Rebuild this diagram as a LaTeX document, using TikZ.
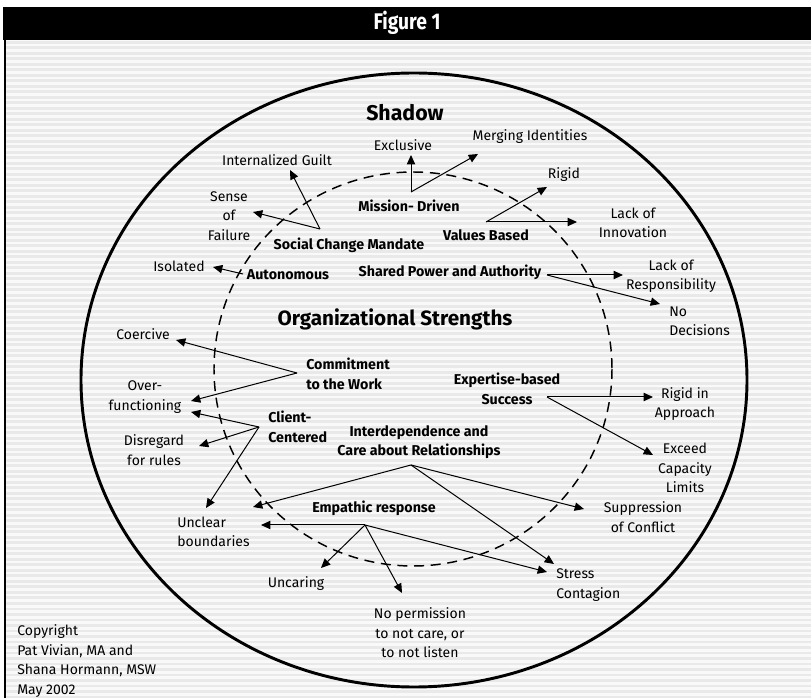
\documentclass[tikz,border=0pt]{standalone}
\usepackage{fontspec}
\setmainfont{Fira Sans}
\usetikzlibrary{arrows.meta}
\begin{document}
\begin{tikzpicture}[x=0.75pt,y=-0.75pt,
  lab/.style={inner sep=0pt, align=center, font=\fontsize{10.5}{14.6}\selectfont},
  labl/.style={lab, align=left, anchor=west},
  str/.style={inner sep=0pt, align=center, font=\bfseries\fontsize{10.7}{14.6}\selectfont},
  strl/.style={str, align=left, anchor=west},
  arr/.style={-{Triangle[length=7pt,width=6.2pt]}, line width=0.75pt},
  stripe/.style={fill=gray!17}]
\useasboundingbox (0,0) rectangle (811,698);
\fill[white] (0,0) rectangle (811,698);
% striped background
\fill[gray!5] (5,40) rectangle (811,698);
\begin{scope}
\clip (5,40) rectangle (811,698);
\foreach \i in {0,...,119} \fill[stripe] (5,{41+\i*5.5}) rectangle (811,{43.7+\i*5.5});
\end{scope}
% header
\fill[black] (3,7) rectangle (811,40);
\node[text=white, inner sep=0pt, font=\bfseries\fontsize{17}{19}\selectfont] (title) at (407,23) {\scalebox{0.85}[1]{Figure 1}};
\draw[line width=1.2pt] (5,40) -- (5,698);
% ellipses
\draw[line width=2.2pt] (414,380) ellipse [x radius=333, y radius=307];
\draw[line width=1.1pt, dash pattern=on 7.5pt off 5pt] (413,369) ellipse [x radius=199, y radius=197];
% titles
\node[inner sep=0pt, font=\bfseries\fontsize{16}{18}\selectfont] (shadow) at (405,113) {Shadow};
\node[inner sep=0pt, font=\bfseries\fontsize{15.5}{18}\selectfont] (org) at (395,319) {Organizational Strengths};
% strengths
\node[str] (mission) at (409,206) {Mission- Driven};
\node[str] (values) at (486,235) {Values Based};
\node[str] (social) at (349,245) {Social Change Mandate};
\node[str] (auton) at (288,275) {Autonomous};
\node[str] (shared) at (450,272) {Shared Power and Authority};
\node[strl] (commit) at (306,374) {Commitment\\to the Work};
\node[str] (expert) at (507,389) {Expertise-based\\Success};
\node[strl] (client) at (268,427) {Client-\\Centered};
\node[str] (interdep) at (419,442) {Interdependence and\\Care about Relationships};
\node[str] (empath) at (374,508) {Empathic response};
% shadows
\node[lab] (excl) at (403,145) {Exclusive};
\node[lab] (merg) at (530,137) {Merging Identities};
\node[lab] (guilt) at (277,160) {Internalized Guilt};
\node[lab] (rigid) at (564,175) {Rigid};
\node[lab] (sense) at (229,216) {Sense\\of\\Failure};
\node[lab] (lackinn) at (633,223) {Lack of\\Innovation};
\node[lab] (isol) at (179,266) {Isolated};
\node[lab] (lackresp) at (671,276) {Lack of\\Responsibility};
\node[labl] (nodec) at (669,321) {No\\Decisions};
\node[lab] (coerc) at (143,334) {Coercive};
\node[lab] (over) at (145,397) {Over-\\functioning};
\node[lab] (rigidin) at (685,404) {Rigid in\\Approach};
\node[lab] (disreg) at (154,450) {Disregard\\for rules};
\node[lab] (exceed) at (685,468) {Exceed\\Capacity\\Limits};
\node[labl] (unclear) at (177,532) {Unclear\\boundaries};
\node[lab] (suppr) at (643,517) {Suppression\\of Conflict};
\node[lab] (uncaring) at (296,584) {Uncaring};
\node[labl] (stress) at (556,585) {Stress\\Contagion};
\node[lab] (noperm) at (420,633) {No permission\\to not care, or\\to not listen};
\node[labl] (copy) at (17,661) {Copyright\\Pat Vivian, MA and\\Shana Hormann, MSW\\May 2002};
% connector points
\coordinate (vMis) at (411,192);
\coordinate (tExcl) at (411,155);
\coordinate (tMerg) at (478,154);
\coordinate (vSoc) at (320,229);
\coordinate (tGuilt) at (290,170);
\coordinate (tSense) at (253,212);
\coordinate (vVal) at (486,222);
\coordinate (tRigid) at (547,187);
\coordinate (tLackInn) at (577,222);
\coordinate (vAut) at (243,274);
\coordinate (tIsol) at (213,267);
\coordinate (vSha) at (547,275);
\coordinate (tLackResp) at (623,275);
\coordinate (tNoDec) at (660,304);
\coordinate (vCom) at (297,373);
\coordinate (tCoerc) at (176,340);
\coordinate (tOver) at (191,401);
\coordinate (vCli) at (259,427);
\coordinate (tFunc) at (191,412);
\coordinate (tDisreg) at (199,446);
\coordinate (tUnclearA) at (206,508);
\coordinate (vExp) at (547,397);
\coordinate (tRigidIn) at (653,397);
\coordinate (tExceed) at (653,455);
\coordinate (vInt) at (411,465);
\coordinate (tUnclearB) at (253,507);
\coordinate (tSuppr) at (584,509);
\coordinate (tStressA) at (554,564);
\coordinate (vEmp) at (365,525);
\coordinate (tUnclearC) at (261,525);
\coordinate (tUncaring) at (321,568);
\coordinate (tNoPerm) at (402,593);
\coordinate (tStressB) at (547,572);
% connectors
\draw[arr] (vMis) -- (tExcl);
\draw[arr] (vMis) -- (tMerg);
\draw[arr] (vSoc) -- (tGuilt);
\draw[arr] (vSoc) -- (tSense);
\draw[arr] (vVal) -- (tRigid);
\draw[arr] (vVal) -- (tLackInn);
\draw[arr] (vAut) -- (tIsol);
\draw[arr] (vSha) -- (tLackResp);
\draw[arr] (vSha) -- (tNoDec);
\draw[arr] (vCom) -- (tCoerc);
\draw[arr] (vCom) -- (tOver);
\draw[arr] (vCli) -- (tFunc);
\draw[arr] (vCli) -- (tDisreg);
\draw[arr] (vCli) -- (tUnclearA);
\draw[arr] (vExp) -- (tRigidIn);
\draw[arr] (vExp) -- (tExceed);
\draw[arr] (vInt) -- (tUnclearB);
\draw[arr] (vInt) -- (tSuppr);
\draw[arr] (vInt) -- (tStressA);
\draw[arr] (vEmp) -- (tUnclearC);
\draw[arr] (vEmp) -- (tUncaring);
\draw[arr] (vEmp) -- (tNoPerm);
\draw[arr] (vEmp) -- (tStressB);
\end{tikzpicture}
\end{document}
